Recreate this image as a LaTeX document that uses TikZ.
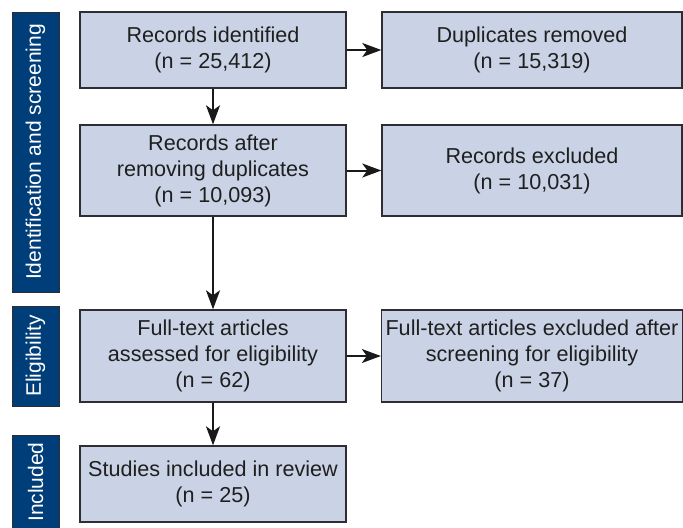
\documentclass[tikz,border=0pt]{standalone}
\usepackage{fontspec}
\setmainfont{Liberation Sans}
\usetikzlibrary{arrows.meta}

\definecolor{boxfill}{RGB}{201,211,229}
\definecolor{stagefill}{RGB}{0,62,122}
\definecolor{boxline}{RGB}{45,45,50}

\begin{document}
\begin{tikzpicture}[x=0.5pt, y=-0.5pt,
  every node/.style={font=\fontsize{10.8}{13}\selectfont},
  flow box/.style={draw=boxline, line width=0.7pt, fill=boxfill, align=center, text=black!88, inner sep=2pt},
  stage bar/.style={draw=boxline, line width=0.5pt, fill=stagefill, text=white, rotate=90, minimum height=23.5pt, font=\fontsize{10.5}{13}\selectfont},
  flow arrow/.style={-{Stealth[length=9.5pt, width=7pt, inset=2.5pt]}, line width=1pt, black!90}]
\useasboundingbox (0,0) rectangle (683,527);

\node[stage bar, minimum width=140pt] (identification bar) at (35.5, 152) {Identification and screening};
\node[stage bar, minimum width=50pt] (eligibility bar) at (35.5, 356) {Eligibility};
\node[stage bar, minimum width=47pt] (included bar) at (35.5, 482) {Included};

\node[flow box, minimum width=133pt, minimum height=38pt] (records identified box) at (213, 50) {Records identified\\(n = 25,412)};
\node[flow box, minimum width=150pt, minimum height=38pt] (duplicates removed box) at (532, 50) {Duplicates removed\\(n = 15,319)};

\node[flow box, minimum width=133pt, minimum height=45.5pt] (records after box) at (213, 170.5) {Records after\\removing duplicates\\(n = 10,093)};
\node[flow box, minimum width=150pt, minimum height=45.5pt] (records excluded box) at (532, 170.5) {Records excluded\\(n = 10,031)};

\node[flow box, minimum width=133pt, minimum height=46pt] (full text assessed box) at (213, 356) {Full-text articles\\assessed for eligibility\\(n = 62)};
\node[flow box, minimum width=150pt, minimum height=46pt] (full text excluded box) at (532, 356) {Full-text articles excluded after\\screening for eligibility\\(n = 37)};

\node[flow box, minimum width=133pt, minimum height=38pt] (studies included box) at (213, 484) {Studies included in review\\(n = 25)};

\draw[flow arrow] (records identified box) -- (duplicates removed box);
\draw[flow arrow] (records after box) -- (records excluded box);
\draw[flow arrow] (full text assessed box) -- (full text excluded box);

\draw[flow arrow] (records identified box) -- (records after box);
\draw[flow arrow] (records after box) -- (full text assessed box);
\draw[flow arrow] (full text assessed box) -- (studies included box);
\end{tikzpicture}
\end{document}
